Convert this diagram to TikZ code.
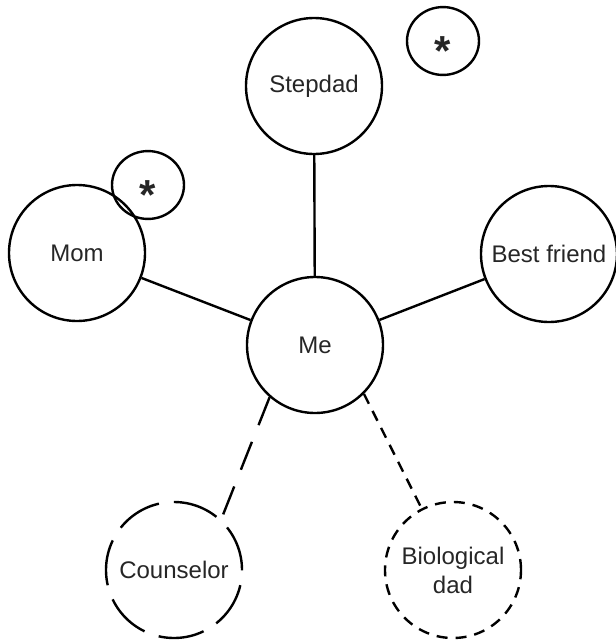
\documentclass[tikz,border=0pt]{standalone}
\usepackage{fontspec}
\setmainfont{Liberation Sans}
\usetikzlibrary{shapes.geometric}

\tikzset{
    person/.style={circle, draw, line width=2.4pt, minimum size=136pt, inner sep=0pt,
        align=center, text=black!85, font=\fontsize{24}{29}\selectfont},
    starbubble/.style={ellipse, draw, line width=2.4pt, minimum width=72pt, minimum height=64pt,
        inner sep=0pt, text=black!85, font=\fontsize{42}{42}\selectfont\bfseries,
        text height=48pt, text depth=0pt},
    link/.style={line width=2.4pt},
    longdash/.style={dash pattern=on 46pt off 15pt},
    longlink/.style={dash pattern=on 30pt off 18pt},
    shortdash/.style={dash pattern=on 11pt off 8pt},
}

\begin{document}
\begin{tikzpicture}[x=1pt, y=-1pt]
    \useasboundingbox (0,0) rectangle (616,643);

    % Personas
    \node[person] (stepdad) at (314,86) {Stepdad};
    \node[person] (mom) at (77,253) {Mom};
    \node[person] (friend) at (549,254) {Best friend};
    \node[person] (me) at (315,345) {Me};
    \node[person, longdash] (counselor) at (174,570) {Counselor};
    \node[person, shortdash] (biodad) at (453,570) {Biological\\dad};

    % Marcas
    \node[starbubble] (stepstar) at (443,41) {*};
    \node[starbubble] (momstar) at (148,185) {*};

    % Lazos
    \draw[link] (stepdad) -- (me);
    \draw[link] (mom) -- (me);
    \draw[link] (friend) -- (me);
    \draw[link, longlink] (me.-131) -- (counselor.47);
    \draw[link, shortdash] (me.-45) -- (biodad.117);
\end{tikzpicture}
\end{document}
